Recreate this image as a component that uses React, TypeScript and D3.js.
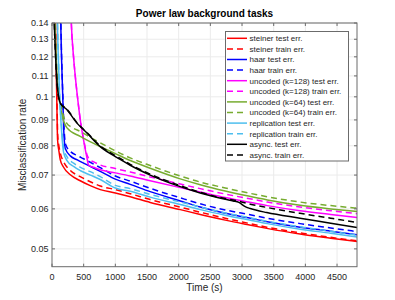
import { useEffect, useRef } from 'react';
import * as d3 from 'd3';

// Power law background tasks — misclassification rate vs. time, log y axis,
// MATLAB-style look (boxed axes, inward ticks, light grid, legend top right).

const WIDTH = 395;
const HEIGHT = 300;
const PLOT = { left: 52, right: 357, top: 23, bottom: 266.7 } as const;
const FONT = '"Liberation Sans", Arial, Helvetica, sans-serif';
const AXIS_COLOR = '#6b6b6b';
const TEXT_COLOR = '#262626';

const X_DOMAIN: [number, number] = [0, 4815];
const Y_DOMAIN: [number, number] = [0.0461, 0.14];
const X_TICKS = [0, 500, 1000, 1500, 2000, 2500, 3000, 3500, 4000, 4500];
const Y_TICKS = [0.05, 0.06, 0.07, 0.08, 0.09, 0.1, 0.11, 0.12, 0.13, 0.14];

type Pt = [number, number];

// [time (s), misclassification rate]
const steinerTest: Pt[] = [
  [45, 0.16], [60, 0.125], [75, 0.1], [88, 0.0822], [110, 0.078], [131, 0.075],
  [178, 0.0727], [289, 0.0701], [446, 0.0682], [604, 0.0667], [762, 0.0655],
  [1000, 0.0645], [1235, 0.0634], [1550, 0.0618], [2025, 0.0598], [2340, 0.0585],
  [2735, 0.057], [3100, 0.0558], [3391, 0.0549], [3916, 0.0535], [4400, 0.0525],
  [4815, 0.0517],
];
const steinerTrain: Pt[] = [
  [45, 0.16], [62, 0.125], [78, 0.1], [90, 0.084], [112, 0.0795], [135, 0.077],
  [180, 0.0745], [289, 0.0715], [446, 0.0695], [604, 0.0679], [762, 0.0666],
  [1000, 0.0655], [1235, 0.0643], [1550, 0.0626], [2025, 0.0605], [2340, 0.0591],
  [2735, 0.0575], [3100, 0.0562], [3391, 0.0552], [3916, 0.0538], [4400, 0.0527],
  [4815, 0.0519],
];
const haarTest: Pt[] = [
  [128, 0.16], [150, 0.12], [170, 0.1], [183, 0.0874], [210, 0.079], [289, 0.0764],
  [400, 0.075], [498, 0.0739], [762, 0.0712], [1000, 0.0687], [1235, 0.0671],
  [1550, 0.0649], [2025, 0.0622], [2340, 0.0605], [2735, 0.0588], [3100, 0.0576],
  [3400, 0.0566], [3916, 0.0552], [4400, 0.0542], [4815, 0.0533],
];
const haarTrain: Pt[] = [
  [130, 0.16], [152, 0.12], [172, 0.1], [186, 0.089], [215, 0.0805], [289, 0.078],
  [400, 0.0765], [498, 0.0754], [762, 0.0724], [1000, 0.0697], [1235, 0.0681],
  [1550, 0.0659], [2025, 0.0631], [2340, 0.0614], [2735, 0.0597], [3100, 0.0585],
  [3400, 0.0575], [3916, 0.0561], [4400, 0.055], [4815, 0.0541],
];
const uncoded128Test: Pt[] = [
  [290, 0.16], [305, 0.14], [340, 0.12], [368, 0.1097], [410, 0.098], [446, 0.0901],
  [498, 0.0822], [552, 0.0757], [577, 0.0733], [683, 0.0723], [762, 0.0717],
  [1000, 0.0707], [1235, 0.0697], [1550, 0.0682], [2025, 0.0661], [2340, 0.0648],
  [2735, 0.0632], [3100, 0.0619], [3400, 0.0609], [3916, 0.0595], [4400, 0.0585],
  [4815, 0.0577],
];
const uncoded128Train: Pt[] = [
  [290, 0.16], [305, 0.14], [340, 0.12], [368, 0.1097], [410, 0.098], [446, 0.0901],
  [498, 0.0825], [552, 0.0768], [600, 0.075], [651, 0.0744], [762, 0.0733],
  [1000, 0.0721], [1235, 0.071], [1550, 0.0694], [2025, 0.0672], [2340, 0.0658],
  [2735, 0.0642], [3100, 0.0629], [3400, 0.0619], [3916, 0.0605], [4400, 0.0595],
  [4815, 0.0587],
];
const uncoded64Test: Pt[] = [
  [30, 0.16], [55, 0.13], [80, 0.11], [110, 0.1], [150, 0.093], [237, 0.0868],
  [446, 0.0835], [600, 0.0815], [762, 0.0797], [1000, 0.0772], [1235, 0.0748],
  [1550, 0.0722], [2025, 0.0688], [2340, 0.067], [2735, 0.0651], [3100, 0.0636],
  [3400, 0.0625], [3916, 0.061], [4400, 0.06], [4815, 0.0593],
];
const uncoded64Train: Pt[] = [
  [30, 0.16], [55, 0.13], [80, 0.11], [110, 0.1], [150, 0.095], [183, 0.0914],
  [237, 0.0885], [300, 0.0872], [446, 0.0854], [600, 0.0832], [762, 0.0811],
  [1000, 0.0782], [1235, 0.0757], [1550, 0.0731], [2025, 0.0697], [2340, 0.0678],
  [2735, 0.066], [3100, 0.0645], [3400, 0.0634], [3916, 0.0619], [4400, 0.0609],
  [4815, 0.0602],
];
const replicationTest: Pt[] = [
  [75, 0.16], [95, 0.125], [120, 0.1], [150, 0.086], [183, 0.0776], [237, 0.0748],
  [341, 0.0728], [450, 0.0714], [604, 0.07], [762, 0.0686], [1000, 0.066],
  [1235, 0.065], [1550, 0.0633], [2025, 0.0612], [2340, 0.0598], [2735, 0.0583],
  [3100, 0.0571], [3400, 0.0561], [3916, 0.0547], [4400, 0.0537], [4815, 0.0528],
];
const replicationTrain: Pt[] = [
  [75, 0.16], [97, 0.125], [122, 0.1], [152, 0.087], [185, 0.079], [240, 0.076],
  [341, 0.0739], [450, 0.0725], [604, 0.0711], [762, 0.0695], [1000, 0.0668],
  [1235, 0.0658], [1550, 0.0641], [2025, 0.0619], [2340, 0.0605], [2735, 0.0589],
  [3100, 0.0577], [3400, 0.0567], [3916, 0.0553], [4400, 0.0542], [4815, 0.0532],
];
const asyncTest: Pt[] = [
  [25, 0.16], [40, 0.135], [52, 0.124], [79, 0.1065], [131, 0.0972], [237, 0.0943],
  [394, 0.0887], [552, 0.0848], [762, 0.0797], [920, 0.0772], [1077, 0.0752],
  [1235, 0.0732], [1550, 0.07], [2025, 0.0664], [2340, 0.0645], [2735, 0.0627],
  [2860, 0.0622], [2950, 0.0618], [3050, 0.0606], [3130, 0.0601], [3391, 0.059],
  [3916, 0.0575], [4400, 0.0562], [4815, 0.0551],
];
const asyncTrain: Pt[] = [
  [25, 0.16], [40, 0.135], [52, 0.124], [79, 0.1065], [131, 0.0972], [237, 0.0945],
  [394, 0.0889], [552, 0.085], [762, 0.08], [920, 0.0775], [1077, 0.0755],
  [1235, 0.0735], [1550, 0.0703], [2025, 0.0667], [2340, 0.0647], [2735, 0.0629],
  [2860, 0.0625], [3130, 0.0613], [3391, 0.0604], [3916, 0.0588], [4400, 0.0575],
  [4815, 0.0564],
];

const LEGEND_LABELS = [
  'steiner test err.', 'steiner train err.',
  'haar test err.', 'haar train err.',
  'uncoded (k=128) test err.', 'uncoded (k=128) train err.',
  'uncoded (k=64) test err.', 'uncoded (k=64) train err.',
  'replication test err.', 'replication train err.',
  'async. test err.', 'async. train err.',
];
const SERIES_DATA = [
  steinerTest, steinerTrain, haarTest, haarTrain,
  uncoded128Test, uncoded128Train, uncoded64Test, uncoded64Train,
  replicationTest, replicationTrain, asyncTest, asyncTrain,
];
const SERIES_COLORS = [
  '#ff0000', '#ff0000', '#0000ff', '#0000ff',
  '#ff00ff', '#ff00ff', '#77ac30', '#77ac30',
  '#4dbeee', '#4dbeee', '#000000', '#000000',
];
const SERIES_DASHED = [false, true, false, true, false, true, false, true, false, true, false, true];

export default function App() {
  const svgRef = useRef<SVGSVGElement | null>(null);

  useEffect(() => {
    const svgEl = svgRef.current;
    if (!svgEl) return;
    const svg = d3.select(svgEl);
    svg.selectAll('*').remove();

    const x = d3.scaleLinear().domain(X_DOMAIN).range([PLOT.left, PLOT.right]);
    const y = d3.scaleLog().domain(Y_DOMAIN).range([PLOT.bottom, PLOT.top]);
    const plotW = PLOT.right - PLOT.left;
    const plotH = PLOT.bottom - PLOT.top;

    svg.append('rect').attr('width', WIDTH).attr('height', HEIGHT).attr('fill', '#ffffff');

    svg
      .append('defs')
      .append('clipPath')
      .attr('id', 'plot-clip')
      .append('rect')
      .attr('x', PLOT.left)
      .attr('y', PLOT.top)
      .attr('width', plotW)
      .attr('height', plotH);

    // ---- grid ------------------------------------------------------------
    const grid = svg.append('g').attr('stroke', '#ebebeb').attr('stroke-width', 1);
    grid
      .selectAll('line.gx')
      .data(X_TICKS.slice(1))
      .join('line')
      .attr('x1', (d) => x(d))
      .attr('x2', (d) => x(d))
      .attr('y1', PLOT.top)
      .attr('y2', PLOT.bottom);
    grid
      .selectAll('line.gy')
      .data(Y_TICKS)
      .join('line')
      .attr('x1', PLOT.left)
      .attr('x2', PLOT.right)
      .attr('y1', (d) => y(d))
      .attr('y2', (d) => y(d));

    // ---- lines -----------------------------------------------------------
    const line = d3
      .line<Pt>()
      .x((d) => x(d[0]))
      .y((d) => y(d[1]))
      .curve(d3.curveMonotoneX);

    const lines = svg.append('g').attr('clip-path', 'url(#plot-clip)');
    SERIES_DATA.forEach((data, i) => {
      lines
        .append('path')
        .datum(data)
        .attr('fill', 'none')
        .attr('stroke', SERIES_COLORS[i])
        .attr('stroke-width', 1.5)
        .attr('stroke-dasharray', SERIES_DASHED[i] ? '6 4' : null)
        .attr('d', line);
    });

    // ---- axes box + inward ticks ----------------------------------------
    const axes = svg.append('g').attr('stroke', AXIS_COLOR).attr('stroke-width', 1);
    axes
      .append('rect')
      .attr('x', PLOT.left)
      .attr('y', PLOT.top)
      .attr('width', plotW)
      .attr('height', plotH)
      .attr('fill', 'none');
    const tickLen = 3;
    X_TICKS.forEach((t) => {
      axes.append('line').attr('x1', x(t)).attr('x2', x(t)).attr('y1', PLOT.bottom).attr('y2', PLOT.bottom - tickLen);
      axes.append('line').attr('x1', x(t)).attr('x2', x(t)).attr('y1', PLOT.top).attr('y2', PLOT.top + tickLen);
    });
    Y_TICKS.forEach((t) => {
      axes.append('line').attr('x1', PLOT.left).attr('x2', PLOT.left + tickLen).attr('y1', y(t)).attr('y2', y(t));
      axes.append('line').attr('x1', PLOT.right).attr('x2', PLOT.right - tickLen).attr('y1', y(t)).attr('y2', y(t));
    });

    // ---- tick labels -----------------------------------------------------
    const labels = svg.append('g').attr('font-family', FONT).attr('font-size', 9).attr('fill', TEXT_COLOR);
    labels
      .selectAll('text.xt')
      .data(X_TICKS)
      .join('text')
      .attr('x', (d) => x(d))
      .attr('y', PLOT.bottom + 13)
      .attr('text-anchor', 'middle')
      .text((d) => String(d));
    labels
      .selectAll('text.yt')
      .data(Y_TICKS)
      .join('text')
      .attr('x', PLOT.left - 3.5)
      .attr('y', (d) => y(d) + 3.2)
      .attr('text-anchor', 'end')
      .text((d) => String(d));

    // ---- titles ----------------------------------------------------------
    svg
      .append('text')
      .attr('x', (PLOT.left + PLOT.right) / 2)
      .attr('y', 17)
      .attr('text-anchor', 'middle')
      .attr('font-family', FONT)
      .attr('font-size', 10)
      .attr('font-weight', 'bold')
      .attr('fill', '#000000')
      .text('Power law background tasks');
    svg
      .append('text')
      .attr('x', (PLOT.left + PLOT.right) / 2)
      .attr('y', 291)
      .attr('text-anchor', 'middle')
      .attr('font-family', FONT)
      .attr('font-size', 10)
      .attr('fill', TEXT_COLOR)
      .text('Time (s)');
    svg
      .append('text')
      .attr('transform', `translate(26, ${(PLOT.top + PLOT.bottom) / 2}) rotate(-90)`)
      .attr('text-anchor', 'middle')
      .attr('font-family', FONT)
      .attr('font-size', 10)
      .attr('fill', TEXT_COLOR)
      .text('Misclassification rate');

    // ---- legend ----------------------------------------------------------
    const legend = svg.append('g');
    legend
      .append('rect')
      .attr('x', 225.5)
      .attr('y', 31.5)
      .attr('width', 123)
      .attr('height', 129.5)
      .attr('fill', '#ffffff')
      .attr('stroke', AXIS_COLOR)
      .attr('stroke-width', 1);
    LEGEND_LABELS.forEach((label, i) => {
      const rowY = 38.3 + i * 10.6;
      legend
        .append('line')
        .attr('x1', 227)
        .attr('x2', 247)
        .attr('y1', rowY)
        .attr('y2', rowY)
        .attr('stroke', SERIES_COLORS[i])
        .attr('stroke-width', 1.5)
        .attr('stroke-dasharray', SERIES_DASHED[i] ? '6 4' : null);
      legend
        .append('text')
        .attr('x', 249.5)
        .attr('y', rowY + 2.9)
        .attr('font-family', FONT)
        .attr('font-size', 8)
        .attr('fill', TEXT_COLOR)
        .text(label);
    });
  }, []);

  return (
    <svg
      ref={svgRef}
      width={WIDTH}
      height={HEIGHT}
      viewBox={`0 0 ${WIDTH} ${HEIGHT}`}
      style={{ position: 'absolute', left: 0, top: 0, display: 'block' }}
      role="img"
      aria-label="Power law background tasks: misclassification rate over time"
    />
  );
}
